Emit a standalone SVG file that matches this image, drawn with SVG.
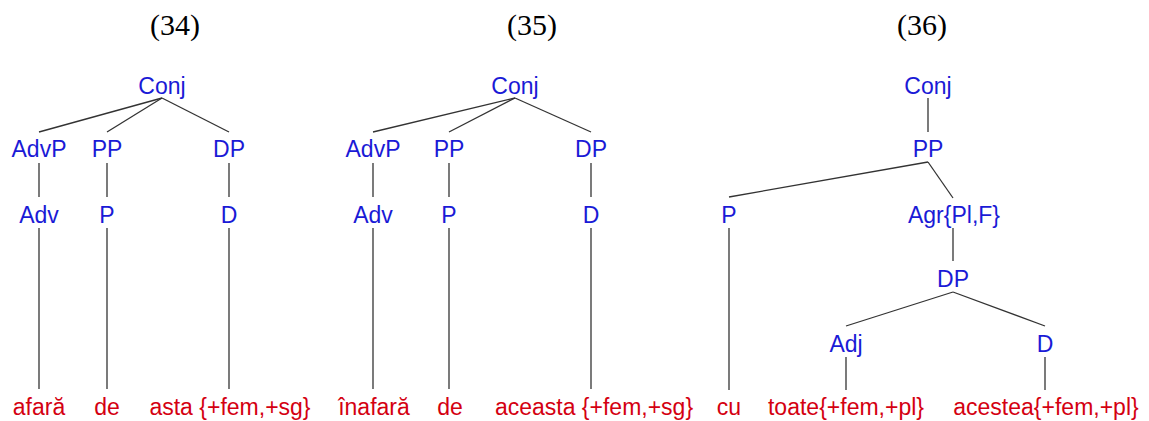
<svg xmlns="http://www.w3.org/2000/svg" width="1149" height="421" viewBox="0 0 1149 421">
<style>
.t{font-family:"Liberation Serif","Times New Roman",serif;font-size:30px;fill:#000;text-anchor:middle}
.n{font-family:"Liberation Sans",Arial,sans-serif;font-size:23px;fill:#1a1ad6;text-anchor:middle}
.l{font-family:"Liberation Sans",Arial,sans-serif;font-size:23px;fill:#d40011;text-anchor:middle}
.e line{stroke:#333;stroke-width:1.3}
</style>
<rect width="1149" height="421" fill="#fff"/>
<g id="titles">
<text class="t" x="175" y="35">(34)</text>
<text class="t" x="532" y="35">(35)</text>
<text class="t" x="922" y="35">(36)</text>
</g>
<g id="connectors" class="e">
<line x1="162" y1="98" x2="39" y2="132"/>
<line x1="162" y1="98" x2="107" y2="132"/>
<line x1="162" y1="98" x2="229" y2="132"/>
<line x1="39" y1="163" x2="39" y2="197"/>
<line x1="107" y1="163" x2="107" y2="197"/>
<line x1="229" y1="163" x2="229" y2="197"/>
<line x1="39" y1="228" x2="39" y2="389"/>
<line x1="107" y1="228" x2="107" y2="389"/>
<line x1="229" y1="228" x2="229" y2="389"/>
<line x1="515" y1="98" x2="373" y2="132"/>
<line x1="515" y1="98" x2="449" y2="132"/>
<line x1="515" y1="98" x2="591" y2="132"/>
<line x1="373" y1="163" x2="373" y2="197"/>
<line x1="449" y1="163" x2="449" y2="197"/>
<line x1="591" y1="163" x2="591" y2="197"/>
<line x1="373" y1="228" x2="373" y2="389"/>
<line x1="449" y1="228" x2="449" y2="389"/>
<line x1="591" y1="228" x2="591" y2="389"/>
<line x1="928" y1="98" x2="928" y2="132"/>
<line x1="928" y1="162" x2="729" y2="197"/>
<line x1="928" y1="162" x2="953" y2="198"/>
<line x1="729" y1="228" x2="729" y2="390"/>
<line x1="953" y1="228" x2="953" y2="261"/>
<line x1="953" y1="292" x2="846" y2="326"/>
<line x1="953" y1="292" x2="1045" y2="326"/>
<line x1="846" y1="357" x2="846" y2="390"/>
<line x1="1045" y1="357" x2="1045" y2="390"/>
</g>
<g id="tree34">
<g id="t34-conj"><text class="n" x="162" y="94">Conj</text></g>
<g id="t34-advp"><text class="n" x="39" y="157">AdvP</text></g>
<g id="t34-pp"><text class="n" x="107" y="157">PP</text></g>
<g id="t34-dp"><text class="n" x="229" y="157">DP</text></g>
<g id="t34-adv"><text class="n" x="39" y="223">Adv</text></g>
<g id="t34-p"><text class="n" x="107" y="223">P</text></g>
<g id="t34-d"><text class="n" x="229" y="223">D</text></g>
<g id="t34-afara"><text class="l" x="39" y="415">afară</text></g>
<g id="t34-de"><text class="l" x="107" y="415">de</text></g>
<g id="t34-asta"><text class="l" x="230" y="415">asta {+fem,+sg}</text></g>
</g>
<g id="tree35">
<g id="t35-conj"><text class="n" x="515" y="94">Conj</text></g>
<g id="t35-advp"><text class="n" x="373" y="157">AdvP</text></g>
<g id="t35-pp"><text class="n" x="449" y="157">PP</text></g>
<g id="t35-dp"><text class="n" x="591" y="157">DP</text></g>
<g id="t35-adv"><text class="n" x="373" y="223">Adv</text></g>
<g id="t35-p"><text class="n" x="449" y="223">P</text></g>
<g id="t35-d"><text class="n" x="591" y="223">D</text></g>
<g id="t35-inafara"><text class="l" x="374" y="415">înafară</text></g>
<g id="t35-de"><text class="l" x="450" y="415">de</text></g>
<g id="t35-aceasta"><text class="l" x="594" y="415">aceasta {+fem,+sg}</text></g>
</g>
<g id="tree36">
<g id="t36-conj"><text class="n" x="928" y="94">Conj</text></g>
<g id="t36-pp"><text class="n" x="928" y="157">PP</text></g>
<g id="t36-p"><text class="n" x="729" y="223">P</text></g>
<g id="t36-agr"><text class="n" x="954" y="223">Agr{Pl,F}</text></g>
<g id="t36-dp"><text class="n" x="953" y="287">DP</text></g>
<g id="t36-adj"><text class="n" x="846" y="352">Adj</text></g>
<g id="t36-d"><text class="n" x="1045" y="352">D</text></g>
<g id="t36-cu"><text class="l" x="729" y="415">cu</text></g>
<g id="t36-toate"><text class="l" x="846" y="415">toate{+fem,+pl}</text></g>
<g id="t36-acestea"><text class="l" x="1046" y="415">acestea{+fem,+pl}</text></g>
</g>
</svg>
